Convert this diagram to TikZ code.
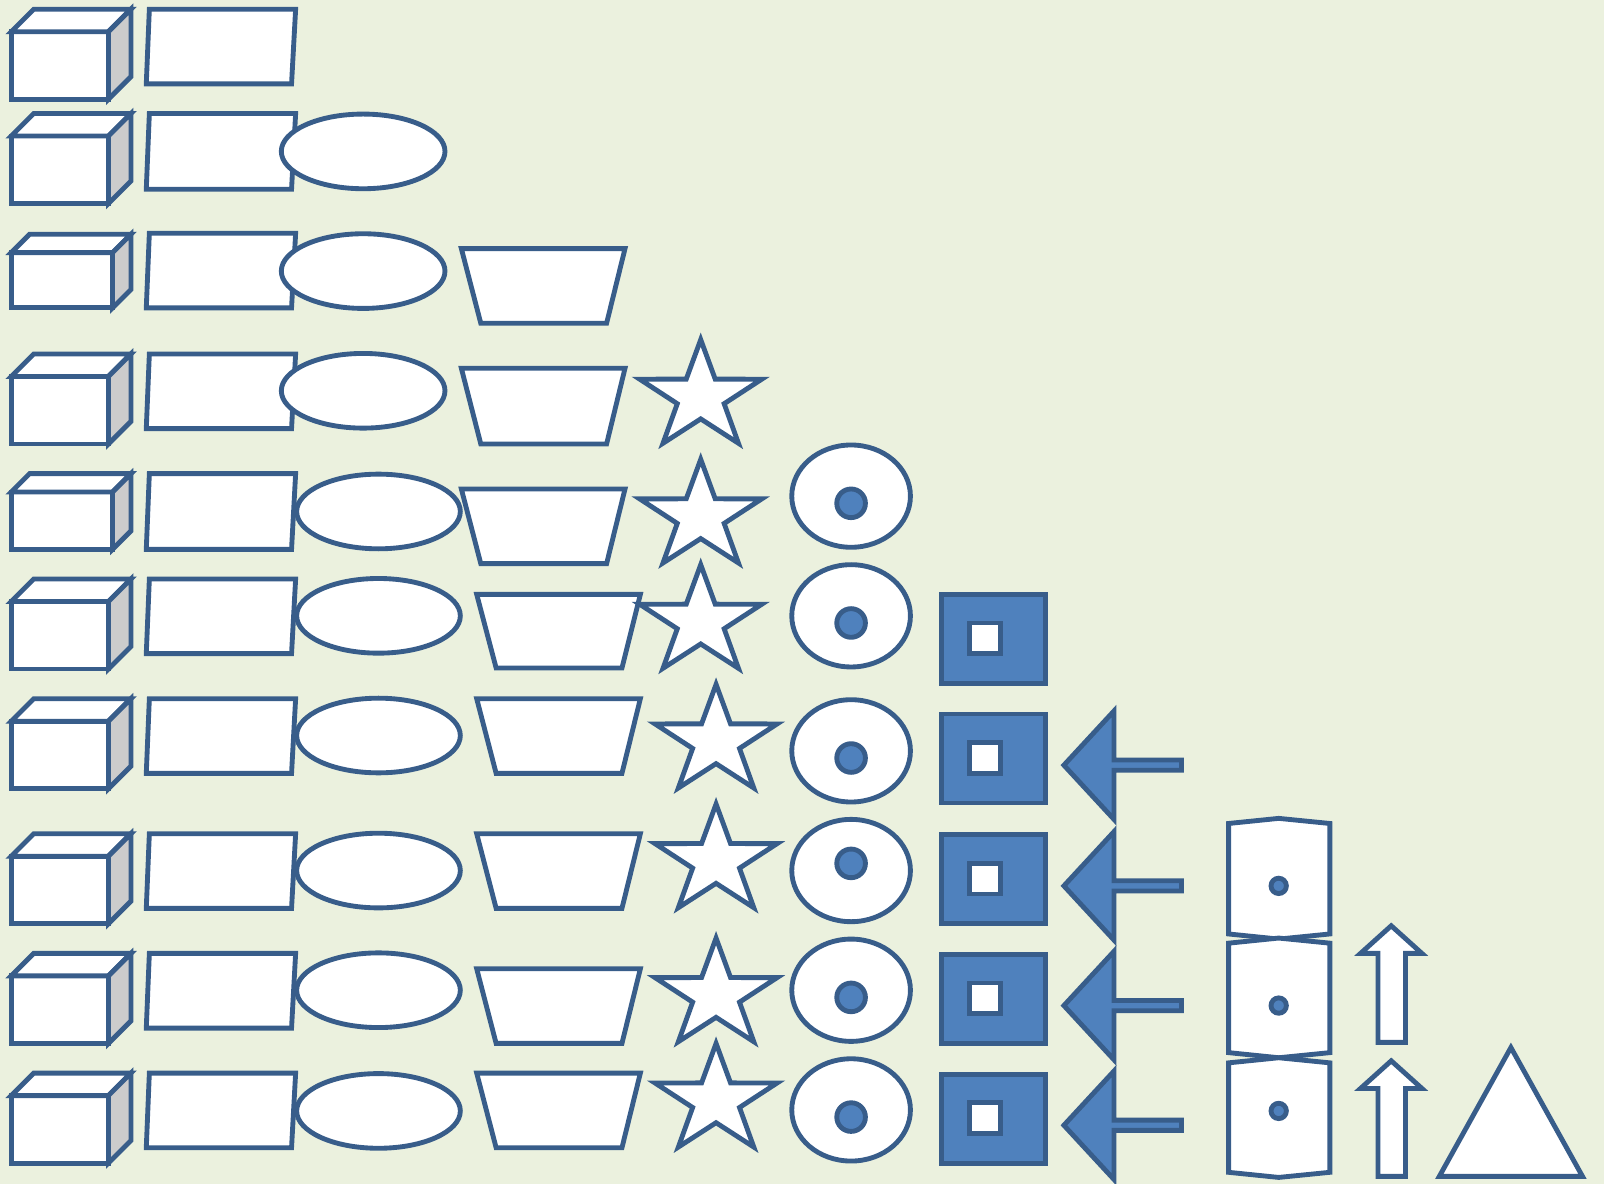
\documentclass[tikz,border=0pt]{standalone}
\usepackage{tikz}
\definecolor{bgfill}{HTML}{EBF1DE}
\definecolor{edgeblue}{HTML}{385D8A}
\definecolor{fillblue}{HTML}{4F81BD}
\definecolor{sidegrey}{HTML}{CCCCCC}

\begin{document}
\begin{tikzpicture}[x=0.01cm,y=-0.01cm,
  figline/.style={draw=edgeblue,line width=1.35pt,fill=white},
  bluefig/.style={figline,fill=fillblue},
  greyside/.style={figline,fill=sidegrey}]
  \fill[bgfill] (0,0) rectangle (1568,1157);
  \useasboundingbox (0,0) rectangle (1568,1157);

  \foreach \f/\b/\d in {31/97/22,133/199/22,247/301/18,368/434/22,481/537/18,588/654/22,705/771/22,837/903/22,954/1020/22,1071/1137/22}
  {
    \draw[figline] (11,\f) rectangle (128-\d,\b);
    \draw[figline] (11,\f) -- (11+\d,\f-\d) -- (128,\f-\d) -- (128-\d,\f) -- cycle;
    \draw[greyside] (128-\d,\f) -- (128,\f-\d) -- (128,\b-\d) -- (128-\d,\b) -- cycle;
  }

  \foreach \t/\b in {9/82,111/185,228/301,346/419,463/537,566/639,683/756,815/888,932/1005,1049/1122}
    \draw[figline] (146,\t) -- (289,\t) -- (285,\b) -- (143,\b) -- cycle;

  \foreach \x/\y in {355/148,355/265,355/382,370/500,370/602,370/719,370/851,370/968,370/1086}
    \draw[figline] (\x,\y) ellipse [x radius=80,y radius=36.5];

  \foreach \t/\b/\o in {243/316/0,360/434/0,478/551/0,581/653/15,683/756/15,815/888/15,947/1020/15,1049/1122/15}
    \draw[figline] (451+\o,\t) -- (611+\o,\t) -- (593+\o,\b) -- (470+\o,\b) -- cycle;

  \foreach \x/\y in {685/388,685/505,685/608,700/725,700/842,700/973,700/1076}
    \draw[figline,shift={(\x,\y)},xscale=1.12] (270:56) -- (306:21.5) -- (342:56) -- (18:21.5) -- (54:56) -- (90:21.5) -- (126:56) -- (162:21.5) -- (198:56) -- (234:21.5) -- cycle;

  \foreach \y/\d in {485/492,602/609,734/741,851/844,968/975,1085/1092}
  {
    \draw[figline] (832,\y) ellipse [x radius=58,y radius=50];
    \draw[bluefig] (832,\d) circle [radius=14];
  }

  \foreach \t in {581,698,816,933,1050}
  {
    \draw[bluefig] (920,\t) rectangle (1022,\t+87);
    \draw[figline] (948,\t+28) rectangle (978,\t+58);
  }

  \foreach \t in {748,866,983,1100}
    \draw[bluefig] (1040,\t) -- (1089,\t-53) -- (1089,\t-5) -- (1155,\t-5) -- (1155,\t+5) -- (1089,\t+5) -- (1089,\t+53) -- cycle;

  \foreach \t/\b/\y in {805/913/866,922/1029/983,1039/1146/1086}
  {
    \draw[figline] (1201,\t) -- (1250,\t-5) -- (1300,\t) -- (1300,\b) -- (1250,\b+5) -- (1201,\b) -- cycle;
    \draw[bluefig] (1250,\y) circle [radius=7.5];
  }

  \foreach \tip/\base/\bot in {905/932/1019,1037/1064/1150}
    \draw[figline] (1360,\tip) -- (1390,\base) -- (1374,\base) -- (1374,\bot) -- (1347,\bot) -- (1347,\base) -- (1330,\base) -- cycle;

  \draw[figline] (1477,1024) -- (1547,1150) -- (1407,1150) -- cycle;
\end{tikzpicture}
\end{document}
